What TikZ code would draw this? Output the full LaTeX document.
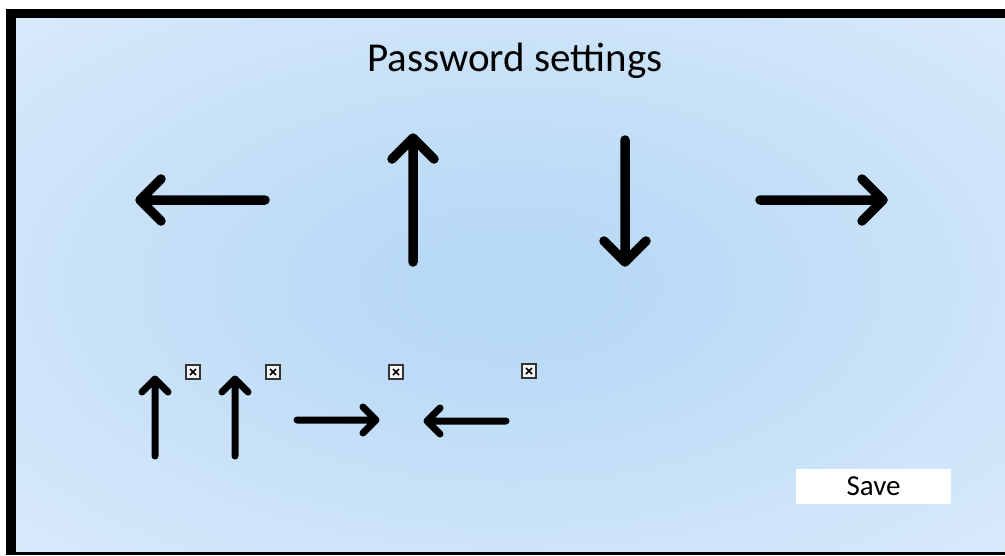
\documentclass[tikz,border=0pt]{standalone}
\usepackage{fontspec}
\setmainfont{Carlito}
\usetikzlibrary{calc}
\definecolor{bgin}{RGB}{184,217,246}
\definecolor{bgmid}{RGB}{221,236,251}
\definecolor{bgout}{RGB}{238,245,253}
\pgfdeclareradialshading{panelbg}{\pgfpoint{0bp}{0bp}}{color(0bp)=(bgin);color(5bp)=(bgin);color(40bp)=(bgmid);color(72bp)=(bgout)}
\begin{document}
\begin{tikzpicture}[x=1pt,y=-1pt,
  bigarrow/.style={line width=9.5pt,line cap=round,line join=round},
  smallarrow/.style={line width=7pt,line cap=round,line join=round},
  imgicon/.style={draw=black!80,line width=1.5pt,fill=black!4,minimum size=14pt,inner sep=0pt,
    path picture={
      \draw[line width=1.6pt,black]
        ([shift={(4pt,4pt)}]path picture bounding box.south west) --
        ([shift={(-4pt,-4pt)}]path picture bounding box.north east)
        ([shift={(4pt,-4pt)}]path picture bounding box.north west) --
        ([shift={(-4pt,4pt)}]path picture bounding box.south east);}},
  savebtn/.style={fill=white,minimum width=155pt,minimum height=35pt,inner sep=0pt,
    font=\fontsize{29}{34}\selectfont},
  titletext/.style={font=\fontsize{41}{48}\selectfont,inner sep=0pt}]

% page, frame and panel
\useasboundingbox (0,0) rectangle (1005,555);
\fill[white] (0,0) rectangle (1005,555);
\fill[black] (6,9) rectangle (1005,555);
\shade[shading=panelbg] (16,18) rectangle (1005,551);

% heading
\node[titletext,anchor=base] (title) at (515,71) {Password settings};

% large direction arrows
\coordinate (bigL-tip) at (140,200);  \coordinate (bigL-tail) at (265,200);
\coordinate (bigU-tip) at (413,138);  \coordinate (bigU-tail) at (413,262);
\coordinate (bigD-tip) at (625,262);  \coordinate (bigD-tail) at (625,140);
\coordinate (bigR-tip) at (883,200);  \coordinate (bigR-tail) at (760,200);

\draw[bigarrow] (bigL-tail) -- (bigL-tip) ++(21,-21) -- (bigL-tip) -- ++(21,21);
\draw[bigarrow] (bigU-tail) -- (bigU-tip) ++(-21,21) -- (bigU-tip) -- ++(21,21);
\draw[bigarrow] (bigD-tail) -- (bigD-tip) ++(-21,-21) -- (bigD-tip) -- ++(21,-21);
\draw[bigarrow] (bigR-tail) -- (bigR-tip) ++(-21,-21) -- (bigR-tip) -- ++(-21,21);

% entered sequence
\coordinate (seq1-tip) at (155,379);  \coordinate (seq1-tail) at (155,456);
\coordinate (seq2-tip) at (235,379);  \coordinate (seq2-tail) at (235,456);
\coordinate (seq3-tip) at (376,420);  \coordinate (seq3-tail) at (297,420);
\coordinate (seq4-tip) at (427,421);  \coordinate (seq4-tail) at (506,421);

\draw[smallarrow] (seq1-tail) -- (seq1-tip) ++(-13,13) -- (seq1-tip) -- ++(13,13);
\draw[smallarrow] (seq2-tail) -- (seq2-tip) ++(-13,13) -- (seq2-tip) -- ++(13,13);
\draw[smallarrow] (seq3-tail) -- (seq3-tip) ++(-13,-13) -- (seq3-tip) -- ++(-13,13);
\draw[smallarrow] (seq4-tail) -- (seq4-tip) ++(13,-13) -- (seq4-tip) -- ++(13,13);

% delete marks
\node[imgicon] (del1) at (193,372) {};
\node[imgicon] (del2) at (273,372) {};
\node[imgicon] (del3) at (396,372) {};
\node[imgicon] (del4) at (529,371) {};

% save button
\node[savebtn] (save) at (873.5,486.5) {Save};
\end{tikzpicture}
\end{document}
